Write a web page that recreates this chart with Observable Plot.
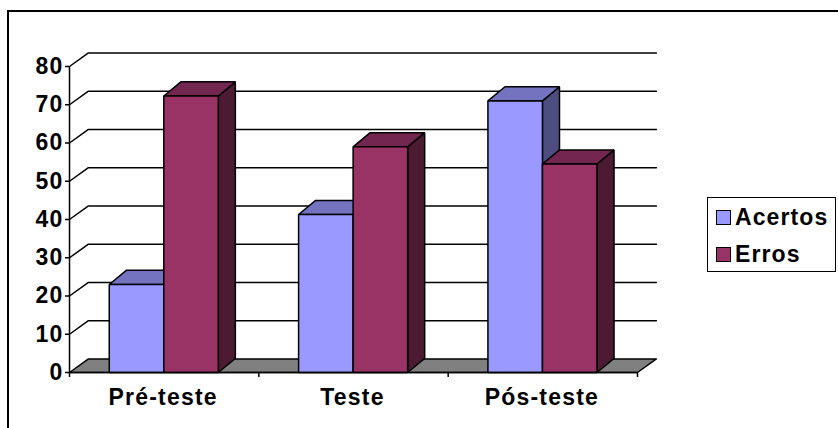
<!DOCTYPE html>
<html><head><meta charset="utf-8">
<script src="https://cdn.jsdelivr.net/npm/d3@7"></script>
<script src="https://cdn.jsdelivr.net/npm/@observablehq/plot@0.6"></script>
<style>
html,body{margin:0;padding:0;background:#fff}
#wrap{position:relative;width:838px;height:428px;overflow:hidden}
#box{position:absolute;left:7px;top:10px;width:840px;height:430px;border:2px solid #000;box-sizing:border-box}
#chart{position:absolute;left:0;top:0}
#legend{position:absolute;left:707px;top:197px;width:129px;height:75px;box-sizing:border-box;border:1.5px solid #000;background:#fff;font:bold 23px "Liberation Sans",Arial,sans-serif;letter-spacing:1.1px}
.it{position:absolute;left:8px;display:flex;align-items:center;height:26px}
.sw{width:13px;height:13px;border:1.5px solid #000;margin-right:4px}
</style></head><body>
<div id="wrap"><div id="box"></div><div id="chart"></div><div id="legend"></div></div>
<script>
const categories = ["Pré-teste","Teste","Pós-teste"];
const acertos = [23,41.3,71];
const erros = [72.3,59,54.5];
const yTicks = [0,10,20,30,40,50,60,70,80];
const seriesNames = ["Acertos","Erros"];
const front = ["#9999FF","#993366"];
const topFace = ["#7373BF","#732650"];
const sideFace = ["#4D4D80","#4D1A33"];

// depth of the 3D box, in data units
const wallDX = 0.1, wallDY = 3.55, barDX = 0.09, barDY = 3.7;
const barL = 0.21, barW = 0.288;

const faces = [];
function poly(id, color, pts){ pts.forEach(([x,y])=>faces.push({id,color,x,y})); }
categories.forEach((c,i)=>{
  [acertos,erros].forEach((s,k)=>{
    const x0=i+barL+k*barW, x1=x0+barW, v=s[i];
    poly(`${i}-${k}-side`, sideFace[k], [[x1,0],[x1+barDX,barDY],[x1+barDX,v+barDY],[x1,v]]);
    poly(`${i}-${k}-top`, topFace[k], [[x0,v],[x0+barDX,v+barDY],[x1+barDX,v+barDY],[x1,v]]);
    poly(`${i}-${k}-front`, front[k], [[x0,0],[x0,v],[x1,v],[x1,0]]);
  });
});
const n = categories.length;
const floor = [{x:0,y:0},{x:wallDX,y:wallDY},{x:n+wallDX,y:wallDY},{x:n,y:0}];
const walls = yTicks.filter(t=>t>0).flatMap(t=>[
  {t,x:0,y:t},{t,x:wallDX,y:t+wallDY},{t,x:n+wallDX,y:t+wallDY}]);

const plot = Plot.plot({
  width:838,height:428,marginLeft:69,marginRight:201,marginTop:66,marginBottom:56,
  style:{fontFamily:'"Liberation Sans",Arial,sans-serif',background:"transparent",color:"#000"},
  x:{type:"linear",domain:[0,n],axis:null},
  y:{type:"linear",domain:[0,80],axis:null},
  marks:[
    Plot.line(floor,{x:"x",y:"y",fill:"#808080",stroke:"#000",strokeWidth:1.5,curve:"linear-closed"}),
    Plot.line(walls,{x:"x",y:"y",z:"t",stroke:"#000",strokeWidth:1.5}),
    Plot.line(faces,{x:"x",y:"y",z:"id",fill:"color",stroke:"#000",strokeWidth:1.5,curve:"linear-closed",strokeLinejoin:"miter"}),
    Plot.ruleX([0],{y1:0,y2:80,stroke:"#000",strokeWidth:1.5}),
    Plot.ruleY([0],{x1:0,x2:n,stroke:"#000",strokeWidth:1.5}),
    Plot.axisY({ticks:yTicks,anchor:"left",tickSize:4,tickPadding:2,label:null,fontSize:23,fontWeight:"bold",strokeWidth:1.5,stroke:"#000"}),
    Plot.axisX({ticks:d3.range(n+1),tickSize:5,tickFormat:()=>"",label:null,anchor:"bottom",strokeWidth:1.5,stroke:"#000"}),
    Plot.text(categories,{x:(d,i)=>i+0.5,y:0,text:d=>d,dy:25,dx:-1,fontSize:23,fontWeight:"bold",fill:"#000"})
  ]
});
document.getElementById("chart").append(plot);
plot.querySelectorAll("text").forEach(t=>t.style.letterSpacing="1.2px");
const lg = d3.select("#legend");
seriesNames.forEach((s,i)=>{
  const it = lg.append("div").attr("class","it").style("top",(6+i*37)+"px");
  it.append("div").attr("class","sw").style("background",front[i]);
  it.append("span").text(s);
});
</script></body></html>
